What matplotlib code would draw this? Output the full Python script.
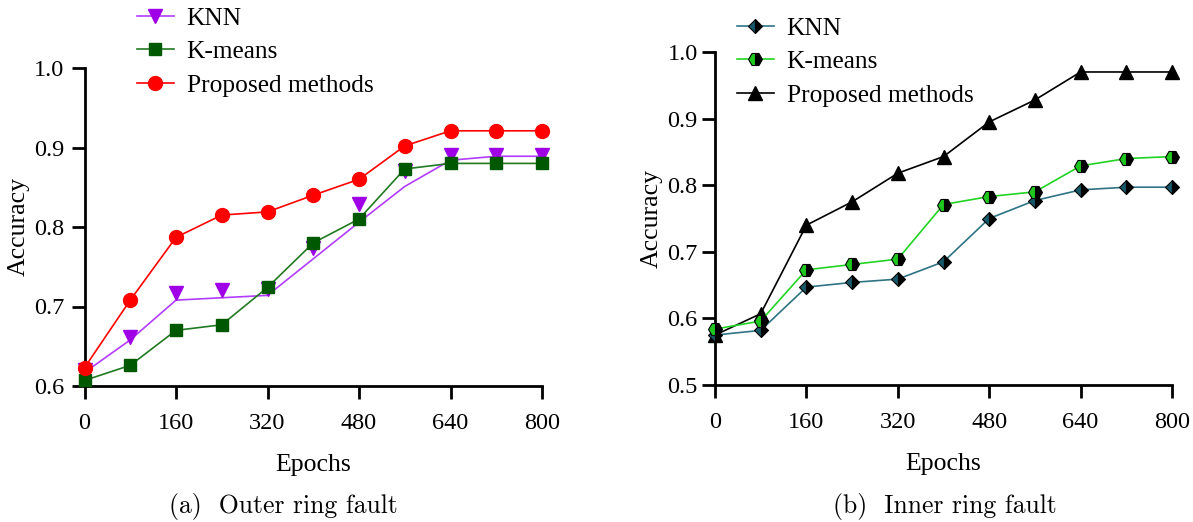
import matplotlib.pyplot as plt
from matplotlib.lines import Line2D

epochs = [0, 80, 160, 240, 320, 400, 480, 560, 640, 720, 800]
x_ticks = [0, 160, 320, 480, 640, 800]
labels = ["KNN", "K-means", "Proposed methods"]

# (a) outer ring fault; KNN markers sit off its connecting line in the source figure
knn_line_a = [0.617, 0.658, 0.708, 0.711, 0.714, 0.760, 0.806, 0.851, 0.884, 0.889, 0.889]
knn_pts_a = [0.620, 0.662, 0.717, 0.721, 0.722, 0.773, 0.829, 0.870, 0.890, 0.890, 0.890]
kmeans_a = [0.607, 0.626, 0.670, 0.677, 0.724, 0.780, 0.810, 0.873, 0.880, 0.880, 0.880]
proposed_a = [0.623, 0.708, 0.787, 0.815, 0.819, 0.840, 0.860, 0.902, 0.921, 0.921, 0.921]

# (b) inner ring fault
knn_b = [0.575, 0.582, 0.647, 0.654, 0.659, 0.685, 0.750, 0.777, 0.793, 0.797, 0.797]
kmeans_b = [0.584, 0.596, 0.673, 0.681, 0.689, 0.771, 0.783, 0.790, 0.829, 0.840, 0.843]
proposed_b = [0.575, 0.607, 0.740, 0.775, 0.818, 0.843, 0.895, 0.928, 0.970, 0.970, 0.970]

SERIF = ["Liberation Serif", "DejaVu Serif"]
plt.rcParams.update({
    "font.family": SERIF,
    "font.size": 17,
    "axes.linewidth": 2.0,
    "xtick.major.width": 2.0,
    "ytick.major.width": 2.0,
    "xtick.major.size": 9.5,
    "ytick.major.size": 9.5,
    "xtick.labelsize": 17.5,
    "ytick.labelsize": 17.5,
})

fig = plt.figure(figsize=(11.93, 5.22), dpi=100)
W, H = 1193, 522
ax_a = fig.add_axes([84.5 / W, 1 - 386 / H, (542 - 84.5) / W, (386 - 68) / H])
ax_b = fig.add_axes([715 / W, 1 - 385 / H, (1172 - 715) / W, (385 - 52) / H])


def style_axes(ax, ylim, yticks):
    ax.set_xlim(0, 800)
    ax.set_ylim(*ylim)
    ax.set_xticks(x_ticks)
    ax.set_yticks(yticks)
    ax.set_yticklabels([f"{v:.1f}" for v in yticks])
    for side in ("top", "right"):
        ax.spines[side].set_visible(False)
    ax.tick_params(axis="x", pad=10)
    ax.tick_params(axis="y", pad=5)
    ax.set_xlabel("Epochs", fontsize=18.5, labelpad=14)
    ax.set_ylabel("Accuracy", fontsize=18.5, labelpad=3)


LEG = dict(loc="upper left", frameon=False, fontsize=18.3, handlelength=1.45,
           handletextpad=0.5, labelspacing=0.42, borderpad=0, borderaxespad=0)

# panel (a)
c_knn, c_knn_m = "#b23cff", "#a000e6"
c_km, c_km_m = "#217a21", "#005800"
c_red = "#ff0000"
ax_a.plot(epochs, knn_line_a, color=c_knn, lw=1.2, zorder=2, clip_on=False)
ax_a.plot(epochs, knn_pts_a, ls="none", marker="v", ms=10, color=c_knn_m, zorder=2, clip_on=False)
ax_a.plot(epochs, kmeans_a, color=c_km, lw=1.2, marker="s", ms=9, mfc=c_km_m, mec=c_km_m,
          zorder=3, clip_on=False)
ax_a.plot(epochs, proposed_a, color=c_red, lw=1.2, marker="o", ms=10, zorder=4, clip_on=False)
style_axes(ax_a, (0.6, 1.0), [0.6, 0.7, 0.8, 0.9, 1.0])

handles_a = [
    Line2D([], [], color=c_knn, lw=1.2, marker="v", ms=10, mfc=c_knn_m, mec=c_knn_m),
    Line2D([], [], color=c_km, lw=1.2, marker="s", ms=9, mfc=c_km_m, mec=c_km_m),
    Line2D([], [], color=c_red, lw=1.2, marker="o", ms=10),
]
fig.legend(handles_a, labels, bbox_to_anchor=(137 / W, 1 - 7 / H), **LEG)

# panel (b)
c_teal, c_teal_m = "#2f7384", "#17596a"
c_lime, c_lime_m = "#22d422", "#1ec81e"
ax_b.plot(epochs, proposed_b, color="black", lw=1.2, marker="^", ms=10, zorder=2, clip_on=False)
ax_b.plot(epochs, knn_b, color=c_teal, lw=1.2, marker="D", ms=6.8, mfc=c_teal_m,
          mfcalt="black", fillstyle="left", mec="black", mew=0.8, zorder=3, clip_on=False)
ax_b.plot(epochs, kmeans_b, color=c_lime, lw=1.2, marker="H", ms=10, mfc=c_lime_m,
          mfcalt="black", fillstyle="left", mec="black", mew=0.8, zorder=4, clip_on=False)
style_axes(ax_b, (0.5, 1.0), [0.5, 0.6, 0.7, 0.8, 0.9, 1.0])
ax_b.tick_params(axis="y", pad=3)

handles_b = [
    Line2D([], [], color=c_teal, lw=1.2, marker="D", ms=6.8, mfc=c_teal_m, mfcalt="black",
           fillstyle="left", mec="black", mew=0.8),
    Line2D([], [], color=c_lime, lw=1.2, marker="H", ms=10, mfc=c_lime_m, mfcalt="black",
           fillstyle="left", mec="black", mew=0.8),
    Line2D([], [], color="black", lw=1.2, marker="^", ms=10),
]
fig.legend(handles_b, labels, bbox_to_anchor=(737 / W, 1 - 17 / H), **LEG)

# sub-figure captions
fig.text(283 / W, 1 - 506 / H, "(a)  Outer ring fault", ha="center", va="center",
         fontsize=18.5, family=["cmr10", "DejaVu Serif"])
fig.text(945 / W, 1 - 506 / H, "(b)  Inner ring fault", ha="center", va="center",
         fontsize=18.5, family=["cmr10", "DejaVu Serif"])

fig.savefig("out.png", dpi=100)
